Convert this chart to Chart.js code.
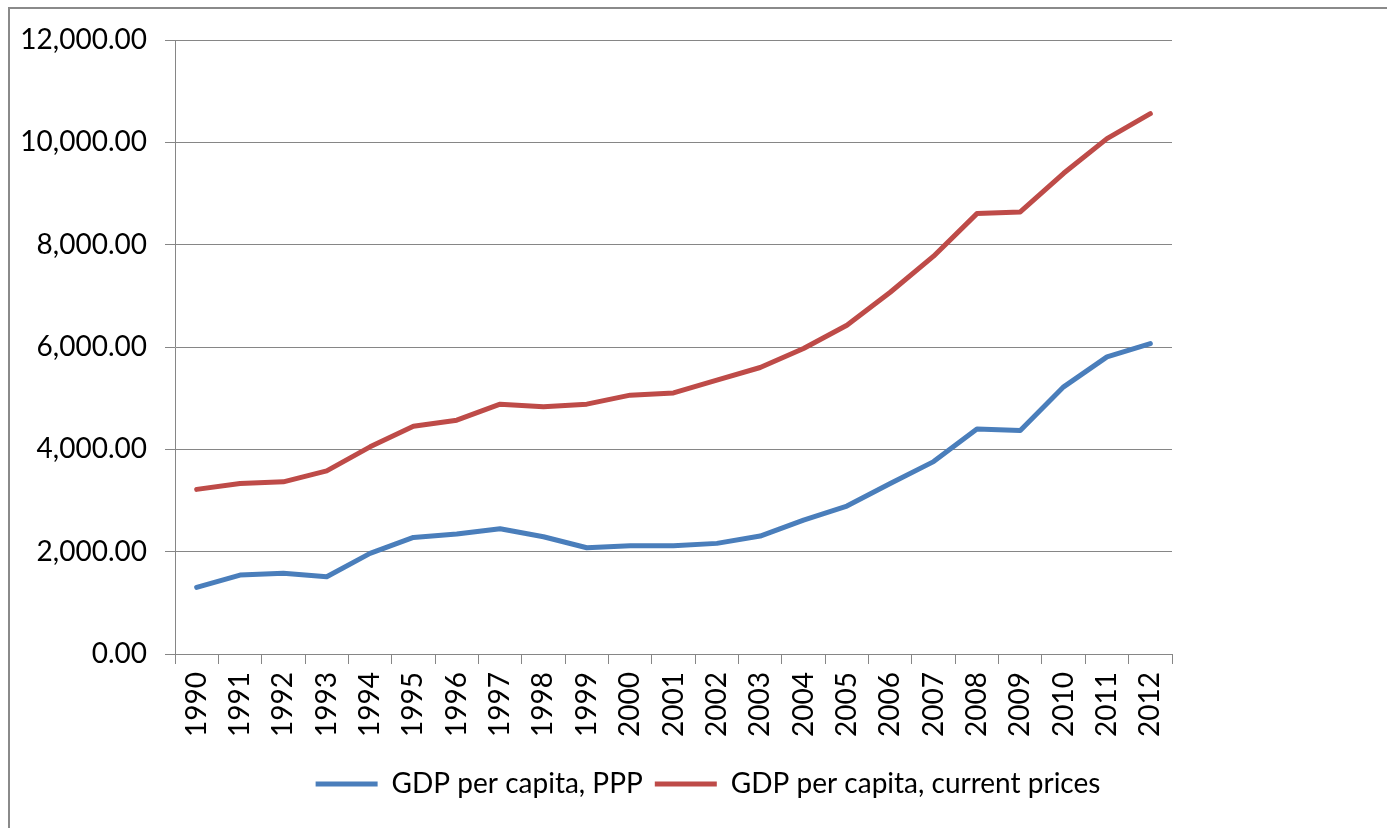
<!DOCTYPE html>
<html>
<head>
<meta charset="utf-8">
<script src="https://cdn.jsdelivr.net/npm/chart.js@4"></script>
<style>
html, body { margin: 0; padding: 0; background: #fff; }
#wrap { position: relative; width: 1387px; height: 828px; }
#frame { position: absolute; left: 8px; top: 7px; right: 0; bottom: 0; border-left: 2px solid #8a8a8a; border-top: 2px solid #8a8a8a; pointer-events: none; }
</style>
</head>
<body>
<div id="wrap">
<canvas id="GDP-Chart" width="1387" height="828"></canvas>
<div id="frame"></div>
</div>
<script>
//-------------------------------------------------- Data
const years = ["1990","1991","1992","1993","1994","1995","1996","1997","1998","1999","2000","2001","2002","2003","2004","2005","2006","2007","2008","2009","2010","2011","2012"];
const gdpPPP = [1302, 1543, 1576, 1510, 1967, 2279, 2344, 2447, 2291, 2076, 2115, 2115, 2162, 2305, 2617, 2891, 3334, 3760, 4395, 4370, 5221, 5807, 6068];
const gdpCurrent = [3217, 3334, 3365, 3580, 4049, 4453, 4570, 4883, 4830, 4883, 5059, 5103, 5352, 5599, 5971, 6426, 7070, 7775, 8607, 8639, 9395, 10072, 10560];
const seriesNames = ["GDP per capita, PPP", "GDP per capita, current prices"];
const yTicks = [0, 2000, 4000, 6000, 8000, 10000, 12000];
//^^^^^^^^^^^^^^^^^^^^^^^^^^^^^^^^^^^^^^^^^^^^^^^^^^ Data

const BLUE = "#4a7ebb", RED = "#be4b48", GRID = "#868686";
const FONT = "Lato";

// move the legend so it is centred where Excel put it
const legendShift = {
	id: "legendShift",
	afterLayout(chart) {
		chart.legend.left = 29;
		chart.legend.right = 1387;
	}
};

new Chart(document.getElementById("GDP-Chart").getContext("2d"), {
	type: "line",
	data: {
		labels: years,
		datasets: [
			{ label: seriesNames[0], data: gdpPPP, borderColor: BLUE, backgroundColor: BLUE },
			{ label: seriesNames[1], data: gdpCurrent, borderColor: RED, backgroundColor: RED }
		]
	},
	options: {
		responsive: false,
		animation: false,
		layout: { padding: { top: 40, right: 215, bottom: 20, left: 0 } },
		elements: {
			line: { borderWidth: 5, tension: 0, borderCapStyle: "round", borderJoinStyle: "round" },
			point: { radius: 0 }
		},
		scales: {
			x: {
				offset: true,
				afterFit: s => { s.height = 104; },
				grid: { offset: true, drawOnChartArea: false, tickLength: 10, color: GRID, lineWidth: 1 },
				border: { color: GRID, width: 1 },
				ticks: { minRotation: 90, maxRotation: 90, padding: 8, color: "#000", font: { family: FONT, size: 28 } }
			},
			y: {
				min: 0, max: 12000,
				afterFit: s => { s.width = 175; },
				afterBuildTicks: s => { s.ticks = yTicks.map(v => ({ value: v })); },
				grid: { tickLength: 10, color: GRID, lineWidth: 1 },
				border: { color: GRID, width: 1 },
				ticks: {
					padding: 18, color: "#000", font: { family: FONT, size: 28 },
					callback: v => v.toLocaleString("en-US", { minimumFractionDigits: 2, maximumFractionDigits: 2 })
				}
			}
		},
		plugins: {
			tooltip: { enabled: false },
			legend: {
				position: "bottom",
				labels: {
					boxWidth: 62, boxHeight: 5, padding: 12, color: "#000",
					font: { family: FONT, size: 28 },
					generateLabels: chart => Chart.defaults.plugins.legend.labels.generateLabels(chart).map(l => Object.assign(l, { lineWidth: 0, fillStyle: l.strokeStyle }))
				}
			}
		}
	},
	plugins: [legendShift]
});
</script>
</body>
</html>
